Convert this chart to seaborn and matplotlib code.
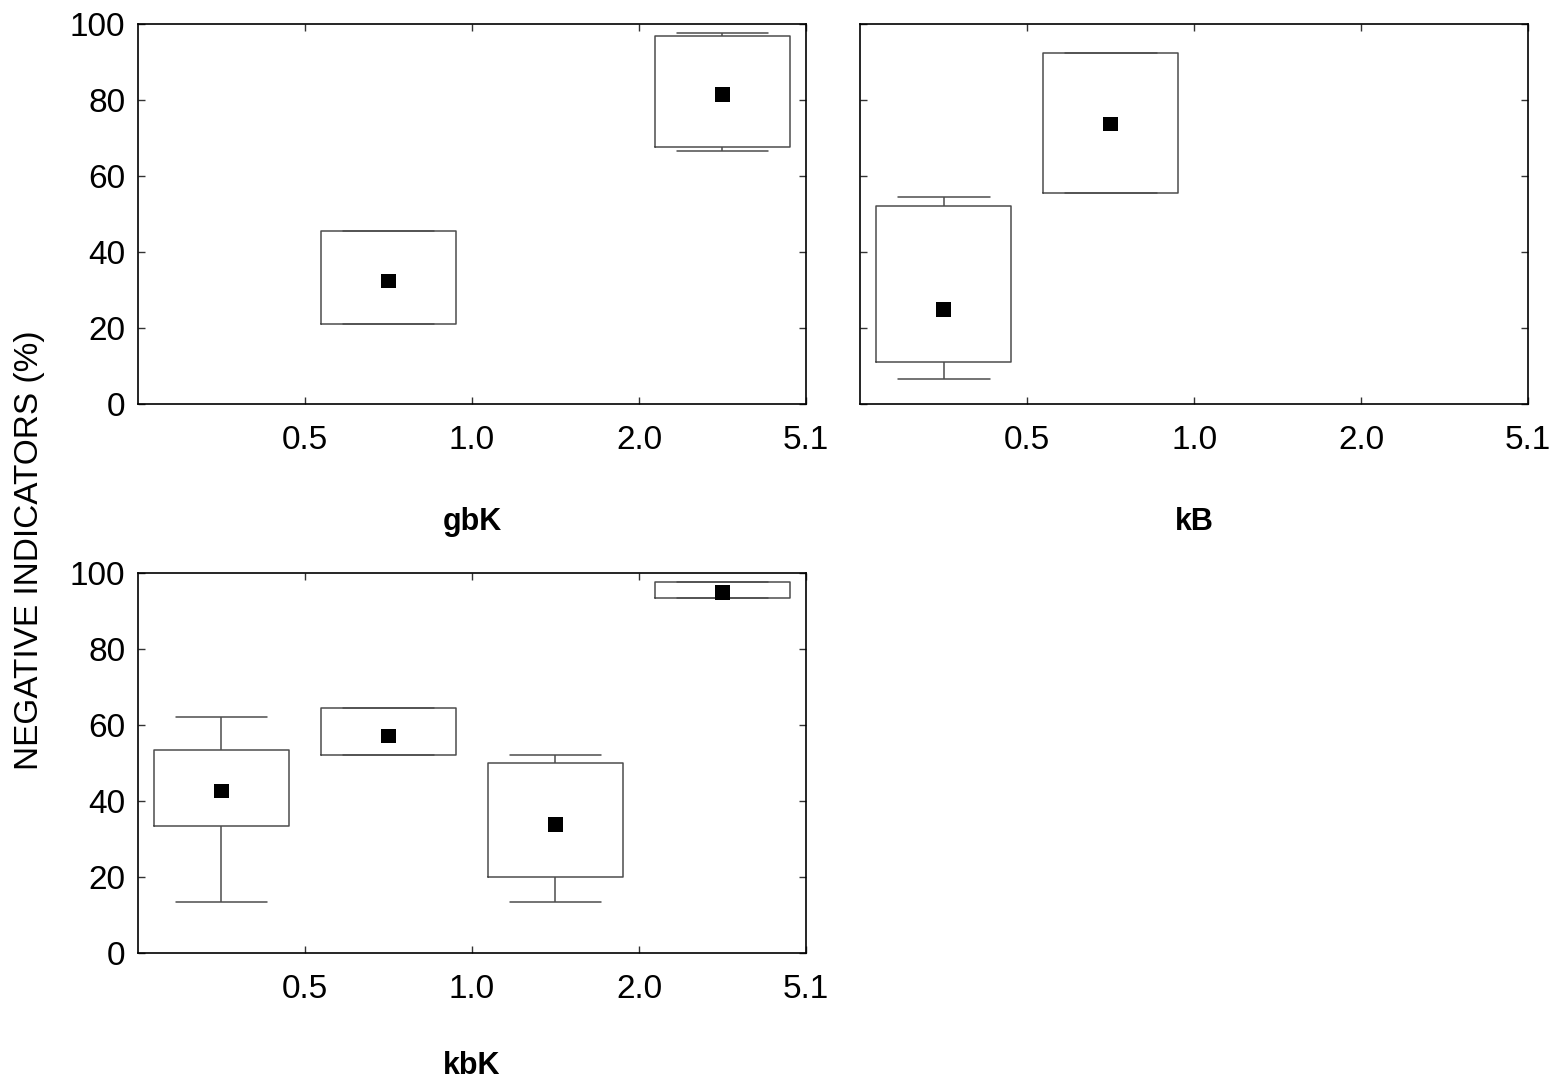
import numpy as np
import pandas as pd
import matplotlib
matplotlib.use("Agg")
import matplotlib.pyplot as plt
import seaborn as sns

# Bin labels at the class boundaries and the four classes they delimit
boundary_labels = ["0.5", "1.0", "2.0", "5.1"]
classes = ["<0.5", "0.5-1.0", "1.0-2.0", "2.0-5.1"]

# Per panel: class, lower whisker, box bottom, box top, upper whisker, mean
gbk_class = ["0.5-1.0", "2.0-5.1"]
gbk_wlo = [21.1, 66.7]
gbk_blo = [21.1, 67.7]
gbk_bhi = [45.5, 96.7]
gbk_whi = [45.5, 97.7]
gbk_mean = [32.4, 81.5]

kb_class = ["<0.5", "0.5-1.0"]
kb_wlo = [6.6, 55.5]
kb_blo = [11.0, 55.5]
kb_bhi = [52.1, 92.3]
kb_whi = [54.4, 92.3]
kb_mean = [24.9, 73.7]

kbk_class = ["<0.5", "0.5-1.0", "1.0-2.0", "2.0-5.1"]
kbk_wlo = [13.3, 52.2, 13.3, 93.3]
kbk_blo = [33.3, 52.2, 20.0, 93.3]
kbk_bhi = [53.3, 64.5, 50.0, 97.7]
kbk_whi = [62.2, 64.5, 52.2, 97.7]
kbk_mean = [42.6, 57.1, 33.8, 94.9]

sns.set_theme(style="white")
plt.rcParams["font.family"] = ["Liberation Sans", "DejaVu Sans"]
plt.rcParams["text.color"] = "black"
plt.rcParams["xtick.labelcolor"] = "black"
plt.rcParams["ytick.labelcolor"] = "black"
plt.rcParams["axes.labelcolor"] = "black"

FS = 24


def long_table(cls, wlo, blo, bhi, whi, mean):
    # five values per class give exactly these quartiles and whisker ends
    rows = []
    for c, a, b, m, d, e in zip(cls, wlo, blo, mean, bhi, whi):
        for v in (a, b, m, d, e):
            rows.append({"cls": c, "value": v})
    return pd.DataFrame(rows)


def panel(ax, name, cls, wlo, blo, bhi, whi, mean, ylabels=True, labelpad=40):
    df = long_table(cls, wlo, blo, bhi, whi, mean)
    line_kw = dict(color="#4d4d4d", linewidth=1.1)
    sns.boxplot(data=df, x="cls", y="value", order=classes, ax=ax,
                whis=(0, 100), width=0.81, fill=False, color="#4d4d4d",
                linewidth=1.1, showfliers=False,
                medianprops=dict(visible=False),
                boxprops=line_kw, whiskerprops=line_kw, capprops=line_kw,
                capwidths=0.55)
    means = pd.DataFrame({"cls": cls, "mean": mean})
    sns.scatterplot(data=means, x="cls", y="mean", marker="s", s=110,
                    color="black", edgecolor="none", ax=ax, zorder=5)
    ax.set_xlim(-0.5, 3.5)
    ax.set_ylim(0, 100)
    ax.set_xticks([0.5, 1.5, 2.5, 3.5])
    ax.set_xticklabels(boundary_labels)
    ax.set_yticks([0, 20, 40, 60, 80, 100])
    if not ylabels:
        ax.set_yticklabels([])
    ax.tick_params(axis="both", direction="in", length=5, width=1,
                   color="#333333", labelsize=FS, labelcolor="black",
                   top=True, right=True, bottom=True, left=True)
    ax.tick_params(axis="x", pad=15)
    ax.tick_params(axis="y", pad=9)
    ax.set_xlabel(name, fontsize=22, fontweight="bold", labelpad=labelpad,
                  color="black")
    ax.set_ylabel("")
    for s in ax.spines.values():
        s.set_visible(True)
        s.set_color("black")
        s.set_linewidth(1.2)


fig = plt.figure(figsize=(15.55, 10.79), dpi=100)
ax1 = fig.add_axes([0.0887, 0.6256, 0.4296, 0.3522])
ax2 = fig.add_axes([0.5531, 0.6256, 0.4296, 0.3522])
ax3 = fig.add_axes([0.0887, 0.1168, 0.4296, 0.3522])

panel(ax1, "gbK", gbk_class, gbk_wlo, gbk_blo, gbk_bhi, gbk_whi, gbk_mean,
      labelpad=37)
panel(ax2, "kB", kb_class, kb_wlo, kb_blo, kb_bhi, kb_whi, kb_mean,
      ylabels=False, labelpad=37)
panel(ax3, "kbK", kbk_class, kbk_wlo, kbk_blo, kbk_bhi, kbk_whi, kbk_mean,
      labelpad=33)

fig.text(0.019, 0.490, "NEGATIVE INDICATORS (%)", rotation=90,
         ha="center", va="center", fontsize=24, color="black")

fig.savefig("out.png", dpi=100, facecolor="white")
